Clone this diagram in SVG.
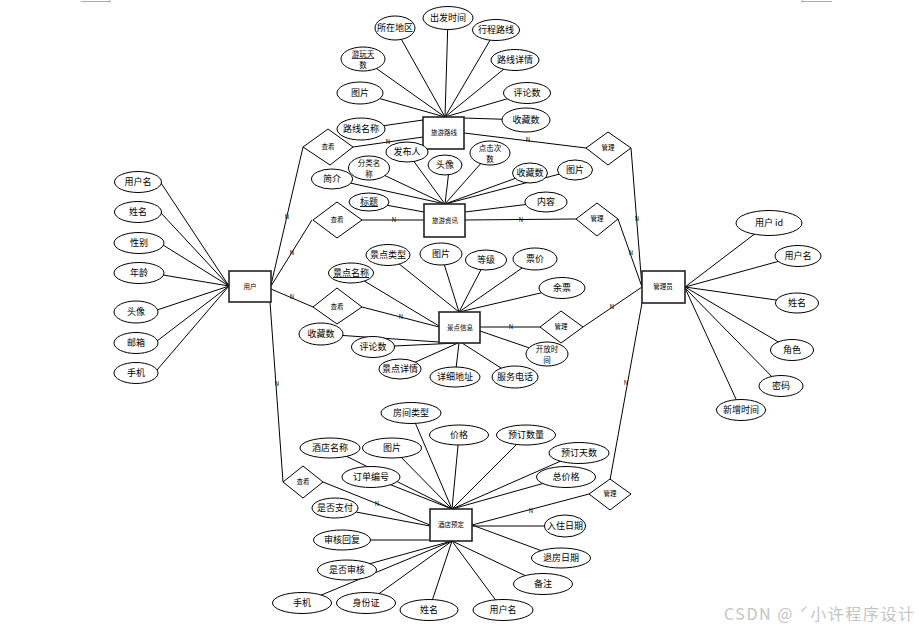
<svg xmlns="http://www.w3.org/2000/svg" width="919" height="630" viewBox="0 0 919 630">
<style>
.ln{stroke:#000;stroke-width:1;fill:none}
.el{fill:#fff;stroke:#000;stroke-width:1}
.bx{fill:#fff;stroke:#222;stroke-width:1.6}
.dm{fill:#fff;stroke:#000;stroke-width:1}
text{font-family:"Noto Sans CJK SC","Noto Sans",sans-serif;fill:#000;text-anchor:middle}
.t{font-size:9px}
.t2{font-size:7.5px}
.tb{font-size:6.5px}
.n{font-size:6px;fill:#7a6040;font-family:"Liberation Serif",serif}
.u{text-decoration:underline}
</style>
<rect width="919" height="630" fill="#fff"/>
<g id="corner-marks" stroke="#aaa" stroke-width="1">
<line x1="81" y1="1.5" x2="110" y2="1.5"/><line x1="110" y1="0" x2="110" y2="3"/>
<line x1="802" y1="1.5" x2="832" y2="1.5"/><line x1="802" y1="0" x2="802" y2="3"/>
</g>
<g id="connectors" class="ln">
<line x1="161" y1="183" x2="229" y2="286"/>
<line x1="161" y1="213" x2="229" y2="286"/>
<line x1="163" y1="245" x2="229" y2="286"/>
<line x1="163" y1="275" x2="229" y2="286"/>
<line x1="157" y1="310" x2="229" y2="286"/>
<line x1="157" y1="341" x2="229" y2="286"/>
<line x1="157" y1="370" x2="229" y2="286"/>
<line x1="271" y1="285" x2="303" y2="147"/>
<line x1="271" y1="286" x2="312" y2="220"/>
<line x1="271" y1="289" x2="313" y2="307"/>
<line x1="270" y1="302" x2="283" y2="482"/>
<line x1="395" y1="28" x2="445" y2="117"/>
<line x1="448" y1="18" x2="445" y2="117"/>
<line x1="496" y1="30" x2="445" y2="117"/>
<line x1="515" y1="60" x2="445" y2="117"/>
<line x1="363" y1="59" x2="445" y2="117"/>
<line x1="360" y1="93" x2="445" y2="117"/>
<line x1="527" y1="93" x2="445" y2="117"/>
<line x1="526" y1="120" x2="464" y2="118"/>
<line x1="361" y1="129" x2="423" y2="120"/>
<line x1="353" y1="147" x2="423" y2="137"/>
<line x1="464" y1="133" x2="586" y2="148"/>
<line x1="631" y1="148" x2="642" y2="287"/>
<line x1="407" y1="152" x2="445" y2="204"/>
<line x1="369" y1="168" x2="445" y2="204"/>
<line x1="449" y1="170" x2="445" y2="204"/>
<line x1="490" y1="153" x2="445" y2="204"/>
<line x1="332" y1="179" x2="445" y2="204"/>
<line x1="530" y1="173" x2="445" y2="204"/>
<line x1="575" y1="170" x2="445" y2="204"/>
<line x1="369" y1="202" x2="424" y2="212"/>
<line x1="546" y1="202" x2="465" y2="212"/>
<line x1="362" y1="220" x2="424" y2="220"/>
<line x1="465" y1="220" x2="576" y2="219"/>
<line x1="618" y1="219" x2="642" y2="287"/>
<line x1="388" y1="255" x2="459" y2="312"/>
<line x1="351" y1="273" x2="439" y2="326"/>
<line x1="441" y1="254" x2="459" y2="312"/>
<line x1="486" y1="260" x2="459" y2="312"/>
<line x1="535" y1="259" x2="459" y2="312"/>
<line x1="562" y1="288" x2="459" y2="312"/>
<line x1="362" y1="307" x2="439" y2="327"/>
<line x1="321" y1="334" x2="439" y2="342"/>
<line x1="373" y1="347" x2="458" y2="343"/>
<line x1="400" y1="369" x2="458" y2="343"/>
<line x1="455" y1="377" x2="459" y2="343"/>
<line x1="515" y1="377" x2="462" y2="343"/>
<line x1="547" y1="354" x2="480" y2="331"/>
<line x1="480" y1="327" x2="540" y2="327"/>
<line x1="583" y1="327" x2="642" y2="287"/>
<line x1="411" y1="413" x2="452" y2="509"/>
<line x1="459" y1="435" x2="452" y2="509"/>
<line x1="526" y1="435" x2="452" y2="509"/>
<line x1="330" y1="448" x2="452" y2="509"/>
<line x1="392" y1="448" x2="452" y2="509"/>
<line x1="579" y1="453" x2="452" y2="509"/>
<line x1="371" y1="477" x2="452" y2="509"/>
<line x1="566" y1="477" x2="452" y2="509"/>
<line x1="323" y1="482" x2="430" y2="525"/>
<line x1="335" y1="508" x2="430" y2="526"/>
<line x1="342" y1="540" x2="430" y2="540"/>
<line x1="589" y1="494" x2="472" y2="525"/>
<line x1="565" y1="526" x2="472" y2="526"/>
<line x1="561" y1="558" x2="472" y2="525"/>
<line x1="347" y1="570" x2="452" y2="541"/>
<line x1="302" y1="603" x2="452" y2="541"/>
<line x1="366" y1="603" x2="452" y2="541"/>
<line x1="429" y1="610" x2="452" y2="541"/>
<line x1="503" y1="610" x2="452" y2="541"/>
<line x1="543" y1="584" x2="452" y2="541"/>
<line x1="610" y1="480" x2="642" y2="303"/>
<line x1="769" y1="223" x2="685" y2="287"/>
<line x1="798" y1="256" x2="685" y2="287"/>
<line x1="797" y1="303" x2="685" y2="287"/>
<line x1="792" y1="350" x2="685" y2="287"/>
<line x1="781" y1="386" x2="685" y2="288"/>
<line x1="741" y1="410" x2="685" y2="288"/>
</g>
<g id="cardinality" class="n">
<text x="287" y="219">N</text>
<text x="292" y="255">N</text>
<text x="292" y="299">N</text>
<text x="277" y="386">N</text>
<text x="388" y="144">N</text>
<text x="528" y="142">N</text>
<text x="637" y="221">N</text>
<text x="394" y="222">N</text>
<text x="521" y="222">N</text>
<text x="631" y="255">N</text>
<text x="401" y="319">N</text>
<text x="511" y="329">N</text>
<text x="612" y="309">N</text>
<text x="377" y="506">N</text>
<text x="531" y="513">N</text>
<text x="626" y="385">N</text>
</g>
<g id="user"><rect class="bx" x="229" y="271" width="42" height="31"/><text class="tb" x="250" y="289">用户</text></g>
<g id="route"><rect class="bx" x="423" y="117" width="41" height="32"/><text class="tb" x="444" y="135">旅游路线</text></g>
<g id="news"><rect class="bx" x="424" y="204" width="41" height="33"/><text class="tb" x="445" y="223">旅游资讯</text></g>
<g id="scenic"><rect class="bx" x="439" y="312" width="41" height="31"/><text class="tb" x="460" y="330">景点信息</text></g>
<g id="hotel"><rect class="bx" x="430" y="509" width="42" height="32"/><text class="tb" x="451" y="527">酒店预定</text></g>
<g id="admin"><rect class="bx" x="642" y="271" width="43" height="32"/><text class="tb" x="663" y="289">管理员</text></g>
<g id="view-route"><polygon class="dm" points="303,147 328,129 353,147 330,165"/><text class="tb" x="328" y="149">查看</text></g>
<g id="view-news"><polygon class="dm" points="313,220 337,202 362,220 337,238"/><text class="tb" x="337" y="222">查看</text></g>
<g id="view-scenic"><polygon class="dm" points="313,307 337,288 362,307 337,324"/><text class="tb" x="337" y="309">查看</text></g>
<g id="view-hotel"><polygon class="dm" points="283,482 303,466 323,482 303,498"/><text class="tb" x="303" y="484">查看</text></g>
<g id="manage-route"><polygon class="dm" points="586,148 608,132 631,148 608,165"/><text class="tb" x="608" y="150">管理</text></g>
<g id="manage-news"><polygon class="dm" points="576,219 597,203 618,219 597,236"/><text class="tb" x="597" y="221">管理</text></g>
<g id="manage-scenic"><polygon class="dm" points="540,327 561,311 583,327 561,343"/><text class="tb" x="561" y="329">管理</text></g>
<g id="manage-hotel"><polygon class="dm" points="589,494 610,479 631,494 610,510"/><text class="tb" x="610" y="496">管理</text></g>
<g id="u-username"><ellipse class="el" cx="138" cy="182" rx="23.5" ry="10.5"/><text class="t" x="138" y="185">用户名</text></g>
<g id="u-name"><ellipse class="el" cx="138" cy="212" rx="23.5" ry="10.5"/><text class="t" x="138" y="215">姓名</text></g>
<g id="u-gender"><ellipse class="el" cx="139" cy="243" rx="25" ry="10.5"/><text class="t" x="139" y="246">性别</text></g>
<g id="u-age"><ellipse class="el" cx="139" cy="273" rx="25" ry="10.5"/><text class="t" x="139" y="276">年龄</text></g>
<g id="u-avatar"><ellipse class="el" cx="136" cy="312" rx="22" ry="11"/><text class="t" x="136" y="315">头像</text></g>
<g id="u-email"><ellipse class="el" cx="136" cy="343" rx="22" ry="10.5"/><text class="t" x="136" y="346">邮箱</text></g>
<g id="u-phone"><ellipse class="el" cx="136" cy="373" rx="22" ry="10.5"/><text class="t" x="136" y="376">手机</text></g>
<g id="r-area"><ellipse class="el" cx="395" cy="28" rx="20" ry="12"/><text class="t" x="395" y="31">所在地区</text></g>
<g id="r-time"><ellipse class="el" cx="448" cy="18" rx="25" ry="11.5"/><text class="t" x="448" y="21">出发时间</text></g>
<g id="r-path"><ellipse class="el" cx="496" cy="30" rx="23.5" ry="10.5"/><text class="t" x="496" y="33">行程路线</text></g>
<g id="r-detail"><ellipse class="el" cx="515" cy="60" rx="24" ry="10.5"/><text class="t" x="515" y="63">路线详情</text></g>
<g id="r-days"><ellipse class="el" cx="363" cy="59" rx="22" ry="12"/><text class="t2" x="363" y="57"><tspan class="u">游玩天</tspan><tspan x="363" dy="11">数</tspan></text></g>
<g id="r-pic"><ellipse class="el" cx="360" cy="93" rx="23" ry="11"/><text class="t" x="360" y="96">图片</text></g>
<g id="r-comments"><ellipse class="el" cx="527" cy="93" rx="23.5" ry="10.5"/><text class="t" x="527" y="96">评论数</text></g>
<g id="r-favs"><ellipse class="el" cx="526" cy="120" rx="24" ry="12"/><text class="t" x="526" y="123">收藏数</text></g>
<g id="r-name"><ellipse class="el" cx="361" cy="129" rx="24" ry="11"/><text class="t" x="361" y="132">路线名称</text></g>
<g id="n-publisher"><ellipse class="el" cx="407" cy="152" rx="21" ry="10"/><text class="t" x="407" y="155">发布人</text></g>
<g id="n-category"><ellipse class="el" cx="369" cy="168" rx="20.5" ry="12"/><text class="t2" x="369" y="166">分类名<tspan x="369" dy="11">称</tspan></text></g>
<g id="n-avatar"><ellipse class="el" cx="445" cy="165" rx="17" ry="10"/><text class="t" x="445" y="168">头像</text></g>
<g id="n-clicks"><ellipse class="el" cx="490" cy="153" rx="20" ry="12"/><text class="t2" x="490" y="151">点击次<tspan x="490" dy="11">数</tspan></text></g>
<g id="n-intro"><ellipse class="el" cx="332" cy="179" rx="20.5" ry="10"/><text class="t" x="332" y="182">简介</text></g>
<g id="n-favs"><ellipse class="el" cx="530" cy="173" rx="17.5" ry="10"/><text class="t" x="530" y="176">收藏数</text></g>
<g id="n-pic"><ellipse class="el" cx="575" cy="170" rx="17.5" ry="10"/><text class="t" x="575" y="173">图片</text></g>
<g id="n-title"><ellipse class="el" cx="369" cy="202" rx="20" ry="9"/><text class="t u" x="369" y="205">标题</text></g>
<g id="n-content"><ellipse class="el" cx="546" cy="202" rx="21" ry="10"/><text class="t" x="546" y="205">内容</text></g>
<g id="s-type"><ellipse class="el" cx="388" cy="255" rx="22" ry="10.5"/><text class="t" x="388" y="258">景点类型</text></g>
<g id="s-name"><ellipse class="el" cx="351" cy="273" rx="22.5" ry="10"/><text class="t u" x="351" y="276">景点名称</text></g>
<g id="s-pic"><ellipse class="el" cx="441" cy="254" rx="21" ry="11"/><text class="t" x="441" y="257">图片</text></g>
<g id="s-level"><ellipse class="el" cx="486" cy="260" rx="20.5" ry="10"/><text class="t" x="486" y="263">等级</text></g>
<g id="s-price"><ellipse class="el" cx="535" cy="259" rx="22" ry="11"/><text class="t" x="535" y="262">票价</text></g>
<g id="s-left"><ellipse class="el" cx="562" cy="288" rx="23" ry="10.5"/><text class="t" x="562" y="291">余票</text></g>
<g id="s-favs"><ellipse class="el" cx="321" cy="334" rx="22" ry="11"/><text class="t" x="321" y="337">收藏数</text></g>
<g id="s-comments"><ellipse class="el" cx="373" cy="347" rx="21.5" ry="10.5"/><text class="t" x="373" y="350">评论数</text></g>
<g id="s-detail"><ellipse class="el" cx="400" cy="369" rx="21" ry="10"/><text class="t" x="400" y="372">景点详情</text></g>
<g id="s-address"><ellipse class="el" cx="455" cy="377" rx="25" ry="10"/><text class="t" x="455" y="380">详细地址</text></g>
<g id="s-tel"><ellipse class="el" cx="515" cy="377" rx="23" ry="11"/><text class="t" x="515" y="380">服务电话</text></g>
<g id="s-open"><ellipse class="el" cx="547" cy="354" rx="21" ry="12"/><text class="t2" x="547" y="352">开放时<tspan x="547" dy="11">间</tspan></text></g>
<g id="h-roomtype"><ellipse class="el" cx="411" cy="413" rx="30" ry="10.5"/><text class="t" x="411" y="416">房间类型</text></g>
<g id="h-price"><ellipse class="el" cx="459" cy="435" rx="29.5" ry="10"/><text class="t" x="459" y="438">价格</text></g>
<g id="h-qty"><ellipse class="el" cx="526" cy="435" rx="29.5" ry="10"/><text class="t" x="526" y="438">预订数量</text></g>
<g id="h-name"><ellipse class="el" cx="330" cy="448" rx="30" ry="10"/><text class="t" x="330" y="451">酒店名称</text></g>
<g id="h-pic"><ellipse class="el" cx="392" cy="448" rx="29.5" ry="10"/><text class="t" x="392" y="451">图片</text></g>
<g id="h-days"><ellipse class="el" cx="579" cy="453" rx="30" ry="10.5"/><text class="t" x="579" y="456">预订天数</text></g>
<g id="h-order"><ellipse class="el" cx="371" cy="477" rx="29" ry="10.5"/><text class="t" x="371" y="480">订单编号</text></g>
<g id="h-total"><ellipse class="el" cx="566" cy="477" rx="29.5" ry="10.5"/><text class="t" x="566" y="480">总价格</text></g>
<g id="h-paid"><ellipse class="el" cx="335" cy="508" rx="23" ry="10"/><text class="t" x="335" y="511">是否支付</text></g>
<g id="h-checkin"><ellipse class="el" cx="565" cy="526" rx="20.5" ry="11"/><text class="t" x="565" y="529">入住日期</text></g>
<g id="h-reply"><ellipse class="el" cx="342" cy="540" rx="28.5" ry="10"/><text class="t" x="342" y="543">审核回复</text></g>
<g id="h-checkout"><ellipse class="el" cx="561" cy="558" rx="29.5" ry="10"/><text class="t" x="561" y="561">退房日期</text></g>
<g id="h-reviewed"><ellipse class="el" cx="347" cy="570" rx="29.5" ry="10"/><text class="t" x="347" y="573">是否审核</text></g>
<g id="h-note"><ellipse class="el" cx="543" cy="584" rx="29.5" ry="10.5"/><text class="t" x="543" y="587">备注</text></g>
<g id="h-phone"><ellipse class="el" cx="302" cy="603" rx="29.5" ry="10.5"/><text class="t" x="302" y="606">手机</text></g>
<g id="h-idcard"><ellipse class="el" cx="366" cy="603" rx="29.5" ry="10.5"/><text class="t" x="366" y="606">身份证</text></g>
<g id="h-realname"><ellipse class="el" cx="429" cy="610" rx="29" ry="10.5"/><text class="t" x="429" y="613">姓名</text></g>
<g id="h-username"><ellipse class="el" cx="503" cy="610" rx="30" ry="10.5"/><text class="t" x="503" y="613">用户名</text></g>
<g id="a-id"><ellipse class="el" cx="769" cy="223" rx="33" ry="12.5"/><text class="t" x="769" y="226">用户 id</text></g>
<g id="a-username"><ellipse class="el" cx="798" cy="256" rx="23" ry="10.5"/><text class="t" x="798" y="259">用户名</text></g>
<g id="a-name"><ellipse class="el" cx="797" cy="303" rx="21.5" ry="10"/><text class="t" x="797" y="306">姓名</text></g>
<g id="a-role"><ellipse class="el" cx="792" cy="350" rx="21.5" ry="10.5"/><text class="t" x="792" y="353">角色</text></g>
<g id="a-pwd"><ellipse class="el" cx="781" cy="386" rx="22" ry="10.5"/><text class="t" x="781" y="389">密码</text></g>
<g id="a-time"><ellipse class="el" cx="741" cy="410" rx="24.5" ry="10.5"/><text class="t" x="741" y="413">新增时间</text></g>
<text x="724" y="620" style="font-size:16px;fill:#c4c4c4;text-anchor:start" textLength="190">CSDN @ ˊ小许程序设计</text>
</svg>
